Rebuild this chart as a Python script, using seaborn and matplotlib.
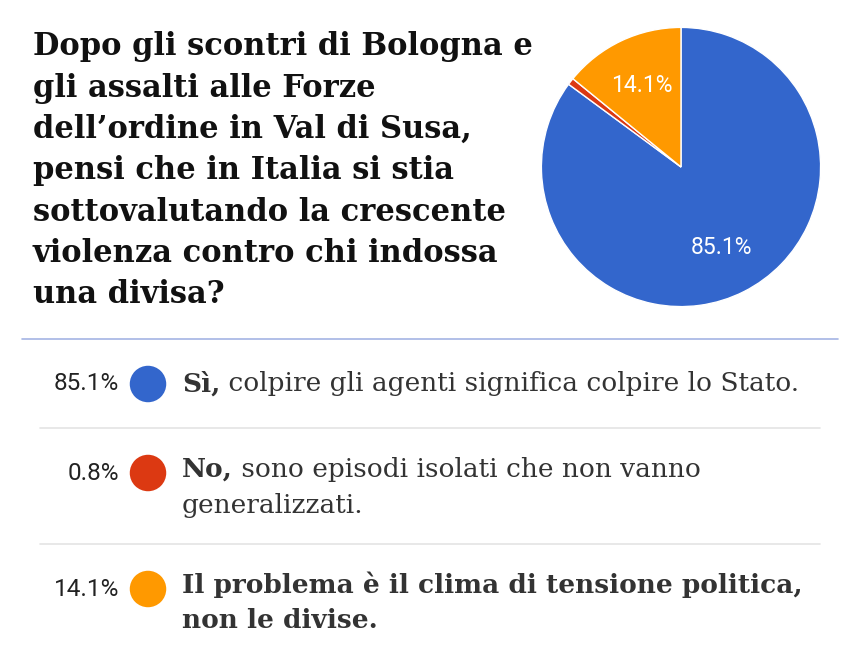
import matplotlib
matplotlib.use("Agg")
import matplotlib.pyplot as plt
import seaborn as sns
import pandas as pd

# poll data
answers = ["Sì", "No", "Il problema"]
shares = [85.1, 0.8, 14.1]
colors = ["#3366CC", "#DC3912", "#FF9900"]
pct_labels = ["85.1%", "0.8%", "14.1%"]

title_lines = [
    "Dopo gli scontri di Bologna e",
    "gli assalti alle Forze",
    "dell\u2019ordine in Val di Susa,",
    "pensi che in Italia si stia",
    "sottovalutando la crescente",
    "violenza contro chi indossa",
    "una divisa?",
]

# each answer: list of lines, each line = (bold part, regular part)
answer_lines = [
    [("Sì,", " colpire gli agenti significa colpire lo Stato.")],
    [("No,", " sono episodi isolati che non vanno"), ("", "generalizzati.")],
    [("Il problema è il clima di tensione politica,", ""), ("non le divise.", "")],
]

sns.set_theme(style="white")
plt.rcParams["font.family"] = ["DejaVu Sans"]

W, H = 860, 672
fig = plt.figure(figsize=(W / 100, H / 100), dpi=100)
fig.patch.set_facecolor("white")


def fx(px):
    return px / W


def fy(py):
    return 1 - py / H


# title, one line at a time
serif = ["DejaVu Serif"]
for i, line in enumerate(title_lines):
    fig.text(fx(33), fy(47 + i * 41.3), line, fontsize=22, fontweight="bold",
             family=serif, color="#111111", va="center", ha="left")

# pie
cx, cy, r = 681, 167, 141
ax_pie = fig.add_axes([fx(cx - r), fy(cy + r), (2 * r) / W, (2 * r) / H])
wedges, texts, autotexts = ax_pie.pie(
    shares, colors=colors, startangle=90, counterclock=False,
    autopct=lambda p: f"{p:.1f}%" if p > 5 else "", pctdistance=0.65,
    wedgeprops=dict(edgecolor="white", linewidth=1),
    textprops=dict(color="white", fontsize=16.5, family=["Roboto"]),
)
ax_pie.set_xlim(-1.01, 1.01)
ax_pie.set_ylim(-1.01, 1.01)
ax_pie.set_aspect("equal")
ax_pie.axis("off")

# legend area in pixel coordinates
ax_leg = fig.add_axes([0, 0, 1, fy(330)])
ax_leg.set_xlim(0, W)
ax_leg.set_ylim(H, 330)
ax_leg.axis("off")

ax_leg.plot([22, 838], [339, 339], color="#a4b4e4", linewidth=1.2)
row_tops = [339, 428, 544]
line_h = 36
for top in row_tops[1:]:
    ax_leg.plot([40, 820], [top, top], color="#e4e4e4", linewidth=1.2)

marker_y = [top + 45 for top in row_tops]
df = pd.DataFrame({"answer": answers, "x": [148] * 3, "y": marker_y})
sns.scatterplot(data=df, x="x", y="y", hue="answer", palette=colors,
                s=690, linewidth=0, ax=ax_leg, legend=False)

fig.canvas.draw()
renderer = fig.canvas.get_renderer()
text_x = 182
for k, lines in enumerate(answer_lines):
    y0 = marker_y[k]
    ax_leg.text(119, y0, pct_labels[k], ha="right", va="center",
                fontsize=17.5, family=["Roboto"], color="#222222")
    shift = -4 if len(lines) > 1 else 0
    for j, (bold, rest) in enumerate(lines):
        yy = y0 + shift + j * line_h
        x = text_x
        if bold:
            t = ax_leg.text(x, yy, bold, ha="left", va="center", fontsize=19,
                            fontweight="bold", family=serif, color="#333333")
            bb = t.get_window_extent(renderer=renderer)
            x = text_x + bb.width
        if rest:
            ax_leg.text(x, yy, rest, ha="left", va="center", fontsize=19,
                        family=serif, color="#333333")

fig.savefig("out.png", dpi=100, facecolor="white")
